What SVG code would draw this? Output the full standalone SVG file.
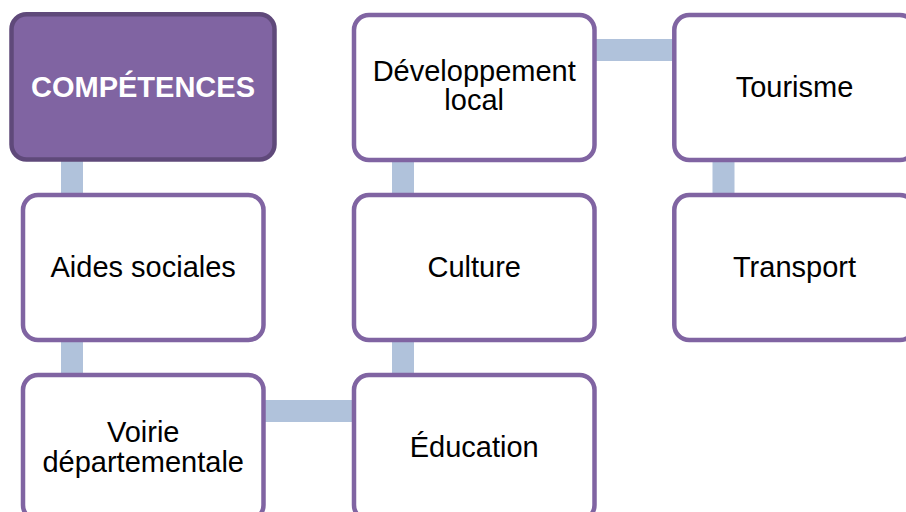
<svg xmlns="http://www.w3.org/2000/svg" width="906" height="512" viewBox="0 0 906 512">
<style>
.box{fill:#ffffff;stroke:#8064A2;stroke-width:4.5}
.head{fill:#8064A2;stroke:#5F497A;stroke-width:4.5}
.conn{fill:#B0C2DB}
text{font-family:"Liberation Sans",Arial,sans-serif;font-size:29px;text-anchor:middle;fill:#000000}
.ht{font-weight:bold;fill:#ffffff;font-size:29px}
</style>
<rect width="906" height="512" fill="#ffffff"/>
<g id="connectors">
<rect class="conn" x="61" y="150" width="22" height="55"/>
<rect class="conn" x="61" y="330" width="22" height="55"/>
<rect class="conn" x="255" y="400" width="107" height="22"/>
<rect class="conn" x="392" y="330" width="22" height="55"/>
<rect class="conn" x="392" y="150" width="22" height="55"/>
<rect class="conn" x="585" y="39" width="100" height="22"/>
<rect class="conn" x="712.5" y="150" width="22" height="55"/>
</g>
<g id="competences">
<rect class="head" x="11.5" y="14.2" width="263" height="145.3" rx="15"/>
<text class="ht" x="143" y="97">COMPÉTENCES</text>
</g>
<g id="aides-sociales">
<rect class="box" x="23" y="195" width="240.5" height="145" rx="15"/>
<text x="143.2" y="276.5">Aides sociales</text>
</g>
<g id="voirie">
<rect class="box" x="23" y="375" width="240.5" height="145" rx="15"/>
<text x="143.2" y="442">Voirie</text>
<text x="143.2" y="472">départementale</text>
</g>
<g id="education">
<rect class="box" x="354" y="375" width="240.5" height="145" rx="15"/>
<text x="474.2" y="457">Éducation</text>
</g>
<g id="culture">
<rect class="box" x="354" y="195" width="240.5" height="145" rx="15"/>
<text x="474.2" y="276.5">Culture</text>
</g>
<g id="developpement-local">
<rect class="box" x="354" y="15" width="240.5" height="145" rx="15"/>
<text x="474.2" y="81">Développement</text>
<text x="474.2" y="110">local</text>
</g>
<g id="tourisme">
<rect class="box" x="674.3" y="15" width="240.5" height="145" rx="15"/>
<text x="794.5" y="96.5">Tourisme</text>
</g>
<g id="transport">
<rect class="box" x="674.3" y="195" width="240.5" height="145" rx="15"/>
<text x="794.5" y="276.5">Transport</text>
</g>
</svg>
